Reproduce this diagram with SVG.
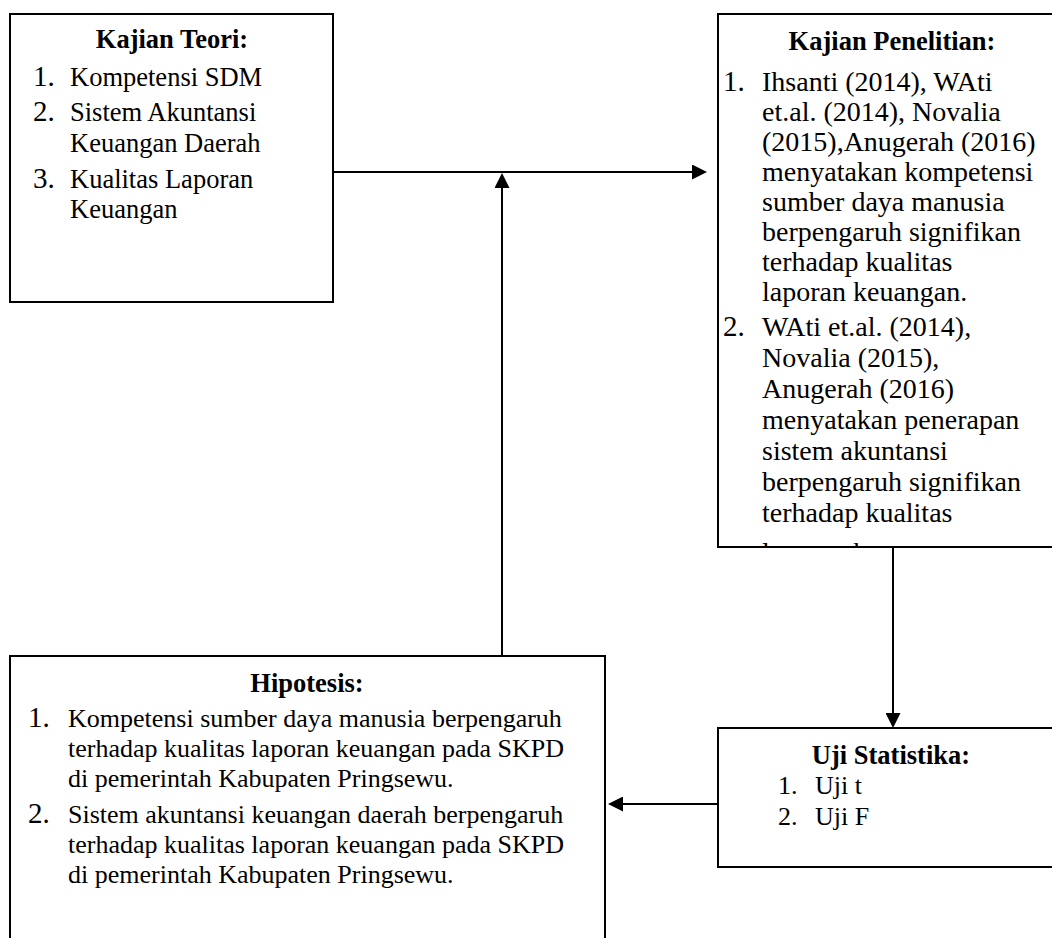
<svg xmlns="http://www.w3.org/2000/svg" width="1052" height="938" viewBox="0 0 1052 938">
  <style>
    .box { fill: #ffffff; stroke: #000000; stroke-width: 2; }
    .edge { fill: none; stroke: #000000; stroke-width: 2; }
    text { font-family: "Liberation Serif", "Times New Roman", serif; fill: #000000; }
    .title { font-weight: bold; font-size: 26.5px; text-anchor: middle; }
    .t1 { font-size: 26.5px; }
    .t2 { font-size: 28px; }
    .t3 { font-size: 26px; }
    .num { font-size: 29px; }
    .numS { font-size: 26px; }
  </style>
  <defs>
    <marker id="arrow" markerUnits="userSpaceOnUse" markerWidth="15" markerHeight="15" viewBox="0 0 15 15" refX="0" refY="7.5" orient="auto">
      <path d="M0,0 L15,7.5 L0,15 Z" fill="#000000"/>
    </marker>
    <clipPath id="clipPen">
      <rect x="719" y="15" width="340" height="531"/>
    </clipPath>
  </defs>

  <g id="connectors">
    <line class="edge" x1="333" y1="172" x2="692" y2="172" marker-end="url(#arrow)"/>
    <line class="edge" x1="502" y1="656" x2="502" y2="188" marker-end="url(#arrow)"/>
    <line class="edge" x1="893" y1="547" x2="893" y2="713" marker-end="url(#arrow)"/>
    <line class="edge" x1="718" y1="804" x2="623" y2="804" marker-end="url(#arrow)"/>
  </g>

  <g id="kajian-teori">
    <rect class="box" x="10" y="14" width="323" height="288"/>
    <text class="title" x="172" y="48">Kajian Teori:</text>
    <text class="num" x="33" y="86">1.</text>
    <text class="t1" x="70" y="86">Kompetensi SDM</text>
    <text class="num" x="33" y="121">2.</text>
    <text class="t1" x="70" y="121">Sistem Akuntansi</text>
    <text class="t1" x="70" y="152">Keuangan Daerah</text>
    <text class="num" x="33" y="188">3.</text>
    <text class="t1" x="70" y="188">Kualitas Laporan</text>
    <text class="t1" x="70" y="218">Keuangan</text>
  </g>

  <g id="kajian-penelitian">
    <rect class="box" x="718" y="14" width="345" height="533"/>
    <text class="title" x="892" y="50">Kajian Penelitian:</text>
    <g clip-path="url(#clipPen)">
      <text class="num" x="723" y="91">1.</text>
      <text class="t2" x="762" y="91">Ihsanti (2014), WAti</text>
      <text class="t2" x="762" y="121">et.al. (2014), Novalia</text>
      <text class="t2" x="762" y="151">(2015),Anugerah (2016)</text>
      <text class="t2" x="762" y="181">menyatakan kompetensi</text>
      <text class="t2" x="762" y="211">sumber daya manusia</text>
      <text class="t2" x="762" y="241">berpengaruh signifikan</text>
      <text class="t2" x="762" y="271">terhadap kualitas</text>
      <text class="t2" x="762" y="301">laporan keuangan.</text>
      <text class="num" x="723" y="336">2.</text>
      <text class="t2" x="762" y="336">WAti et.al. (2014),</text>
      <text class="t2" x="762" y="367">Novalia (2015),</text>
      <text class="t2" x="762" y="398">Anugerah (2016)</text>
      <text class="t2" x="762" y="429">menyatakan penerapan</text>
      <text class="t2" x="762" y="460">sistem akuntansi</text>
      <text class="t2" x="762" y="491">berpengaruh signifikan</text>
      <text class="t2" x="762" y="522">terhadap kualitas</text>
      <text class="t2" x="762" y="562">laporan keuangan.</text>
    </g>
  </g>

  <g id="hipotesis">
    <rect class="box" x="10" y="656" width="595" height="300"/>
    <text class="title" x="307" y="692">Hipotesis:</text>
    <text class="num" x="28" y="727">1.</text>
    <text class="t3" x="68" y="727">Kompetensi sumber daya manusia berpengaruh</text>
    <text class="t3" x="68" y="757">terhadap kualitas laporan keuangan pada SKPD</text>
    <text class="t3" x="68" y="787">di pemerintah Kabupaten Pringsewu.</text>
    <text class="num" x="28" y="823">2.</text>
    <text class="t3" x="68" y="823">Sistem akuntansi keuangan daerah berpengaruh</text>
    <text class="t3" x="68" y="853">terhadap kualitas laporan keuangan pada SKPD</text>
    <text class="t3" x="68" y="883">di pemerintah Kabupaten Pringsewu.</text>
  </g>

  <g id="uji-statistika">
    <rect class="box" x="718" y="728" width="345" height="139"/>
    <text class="title" x="891" y="764">Uji Statistika:</text>
    <text class="numS" x="778" y="794">1.</text>
    <text class="t3" x="815" y="794">Uji t</text>
    <text class="numS" x="778" y="825">2.</text>
    <text class="t3" x="815" y="825">Uji F</text>
  </g>
</svg>
